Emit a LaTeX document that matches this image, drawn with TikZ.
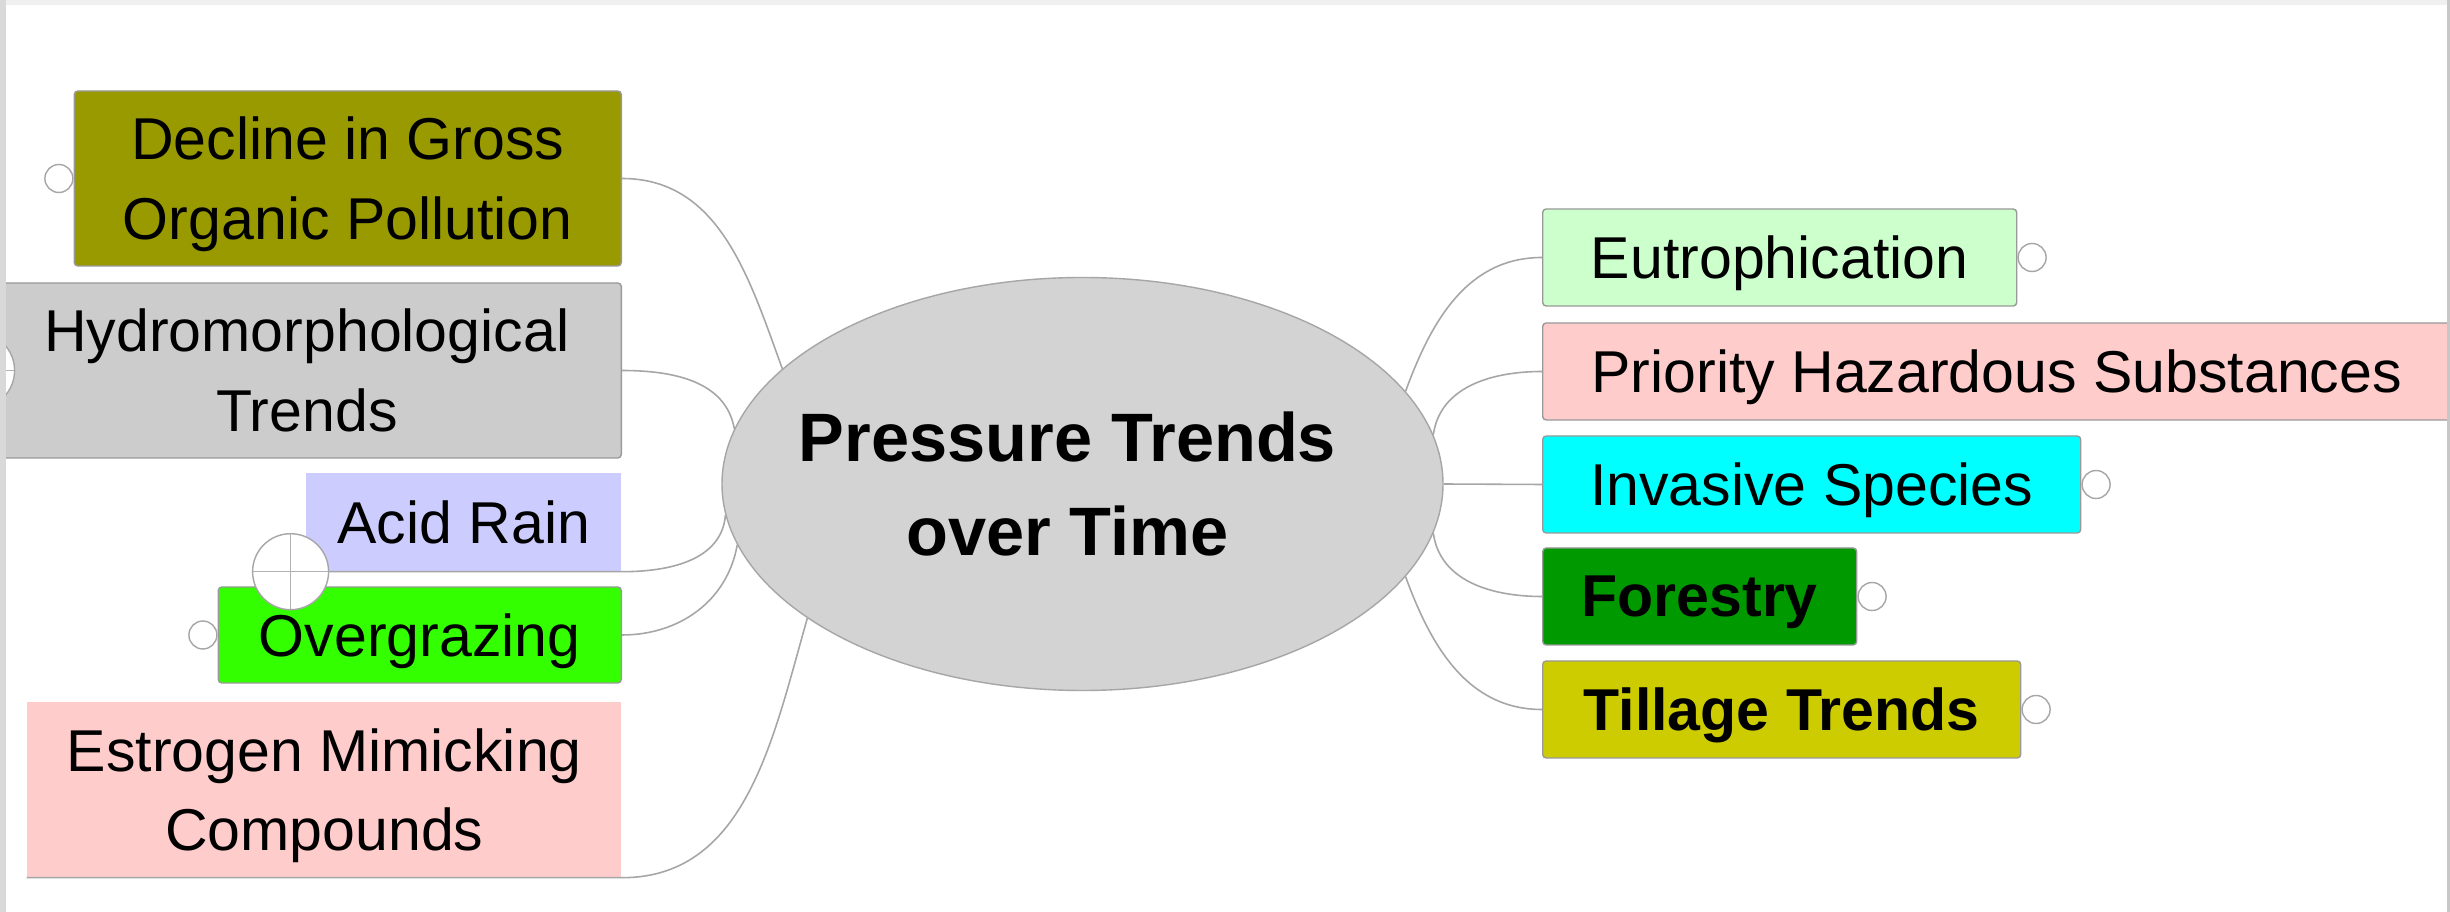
\documentclass[tikz,border=0pt]{standalone}
\usepackage{fontspec}
\setmainfont{Liberation Sans}
\usetikzlibrary{positioning,shapes.geometric}
\definecolor{hubgray}{HTML}{D3D3D3}
\definecolor{olivebox}{HTML}{999900}
\definecolor{greybox}{HTML}{CCCCCC}
\definecolor{lilacbox}{HTML}{CCCCFF}
\definecolor{limebox}{HTML}{33FF00}
\definecolor{pinkbox}{HTML}{FFCCCC}
\definecolor{mintbox}{HTML}{CCFFCC}
\definecolor{cyanbox}{HTML}{00FFFF}
\definecolor{forestbox}{HTML}{009900}
\definecolor{mustardbox}{HTML}{CCCC00}
\tikzset{
  hub/.style={ellipse, draw=black!35, fill=hubgray, minimum width=7.21cm,
              minimum height=4.13cm, inner sep=0pt},
  hubtxt/.style={align=center, text=black, font=\bfseries\fontsize{19.5}{26.7}\selectfont},
  tpc/.style={rectangle, rounded corners=1pt, draw=black!40, text=black, align=center,
              inner sep=0pt, text depth=0pt, font=\fontsize{16.8}{22.7}\selectfont},
  tpcu/.style={rectangle, text=black, align=center, inner sep=0pt, text depth=0pt,
               font=\fontsize{16.8}{22.7}\selectfont},
  tall/.style={minimum height=1.75cm},
  flat/.style={minimum height=0.97cm},
  knob/.style={circle, draw=black!35, fill=white, minimum size=2.8mm, inner sep=0pt},
  fold/.style={circle, draw=black!35, fill=white, minimum size=7.6mm, inner sep=0pt,
               path picture={\draw[black!30] (path picture bounding box.north) -- (path picture bounding box.south)
                 (path picture bounding box.west) -- (path picture bounding box.east);}},
  lnk/.style={draw=black!35, line width=0.45pt},
}
\begin{document}
\begin{tikzpicture}
\useasboundingbox[fill=white] (0,0) rectangle (24.5,9.12);
\node[hub] (pt) at (10.825,4.28) {};
\node[hubtxt, xshift=-0.15cm] (ptlabel) at (pt) {Pressure Trends\\over Time};
% left side
\node[tpc, tall, fill=olivebox, minimum width=5.47cm, anchor=east] (decl) at (6.22,7.335) {Decline in Gross\\Organic Pollution};
\node[tpc, tall, fill=greybox, minimum width=6.29cm, anchor=east] (hydro) at (6.22,5.415) {Hydromorphological\\Trends};
\node[tpcu, fill=lilacbox, minimum width=3.15cm, minimum height=0.98cm, anchor=east] (acid) at (6.22,3.90) {Acid Rain};
\node[tpc, fill=limebox, minimum width=4.03cm, minimum height=0.96cm, anchor=east] (overg) at (6.22,2.77) {Overgrazing};
\node[tpcu, tall, fill=pinkbox, minimum width=5.94cm, anchor=east] (estr) at (6.22,1.225) {Estrogen Mimicking\\Compounds};
% right side
\node[tpc, flat, fill=mintbox, minimum width=4.74cm, anchor=west] (eut) at (15.42,6.545) {Eutrophication};
\node[tpc, flat, fill=pinkbox, minimum width=9.08cm, anchor=west] (prio) at (15.42,5.405) {Priority Hazardous Substances};
\node[tpc, flat, fill=cyanbox, minimum width=5.38cm, anchor=west] (inv) at (15.42,4.275) {Invasive Species};
\node[tpc, flat, fill=forestbox, minimum width=3.14cm, anchor=west, font=\bfseries\fontsize{16.8}{22.7}\selectfont] (fore) at (15.42,3.155) {Forestry};
\node[tpc, flat, fill=mustardbox, minimum width=4.78cm, anchor=west, font=\bfseries\fontsize{16.8}{22.7}\selectfont] (till) at (15.42,2.025) {Tillage Trends};
% links
\draw[lnk] (decl.east) to[out=0,in=110] (pt.159);
\draw[lnk] (hydro.east) to[out=0,in=100] (pt.171);
\draw[lnk] (acid.south west) -- (acid.south east) to[out=0,in=-95] (pt.185);
\draw[lnk] (overg.east) to[out=0,in=-100] (pt.190);
\draw[lnk] (estr.south west) -- (estr.south east) to[out=0,in=-106] (pt.206);
\draw[lnk] (pt.16) to[out=70,in=180] (eut.west);
\draw[lnk] (pt.8) to[out=82,in=180] (prio.west);
\draw[lnk] (pt.0) -- (inv.west);
\draw[lnk] (pt.352) to[out=-82,in=180] (fore.west);
\draw[lnk] (pt.344) to[out=-70,in=180] (till.west);
% knobs
\node[knob, left=0pt of decl] (declk) {};
\node[knob, left=0pt of overg] (overgk) {};
\node[knob, right=0pt of eut] (eutk) {};
\node[knob, right=0pt of inv] (invk) {};
\node[knob, right=0pt of fore] (forek) {};
\node[knob, right=0pt of till] (tillk) {};
\node[fold] (acidf) at ([xshift=-0.15cm]acid.south west) {};
\node[fold] (hydrof) at ([xshift=-0.15cm]hydro.west) {};
% window frame
\fill[black!6] (0,9.07) rectangle (24.5,9.12);
\fill[black!15] (0,0) rectangle (0.06,9.12);
\fill[black!22] (24.47,0) rectangle (24.5,9.12);
\end{tikzpicture}
\end{document}
